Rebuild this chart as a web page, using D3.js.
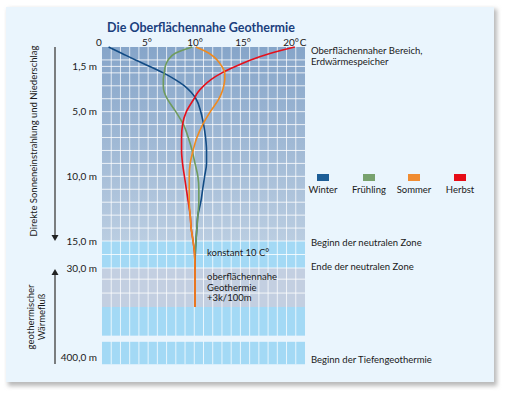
<!DOCTYPE html>
<html>
<head>
<meta charset="utf-8">
<script src="https://cdn.jsdelivr.net/npm/d3@7"></script>
<style>
  body { margin: 0; background: #fff; }
  text { font-family: Lato, "Noto Sans", sans-serif; }
</style>
</head>
<body>
<div id="chart"></div>
<script>
// depth in m, temperatures in °C
var depths = [0, 0.5, 1, 1.5, 2, 2.5, 3, 3.5, 4, 5, 6, 7, 8, 9, 10, 11, 12, 13, 14, 15, 22, 30, 100];
var winter   = [1.0, 2.4, 3.8, 5.3, 6.7, 7.9, 8.9, 9.6, 10.1, 10.6, 10.9, 11.1, 11.2, 11.2, 11.0, 10.8, 10.6, 10.3, 10.2, 10.1, 10.03, 10, 10];
var spring   = [9.7, 7.9, 7.2, 6.9, 6.8, 6.7, 6.7, 6.8, 7.1, 8.0, 8.8, 9.3, 9.7, 10.0, 10.3, 10.4, 10.4, 10.3, 10.2, 10.1, 10.03, 10, 10];
var summer   = [10.1, 11.5, 12.3, 12.8, 13.1, 13.1, 13.0, 12.8, 12.5, 11.6, 10.8, 10.2, 9.8, 9.5, 9.4, 9.4, 9.4, 9.5, 9.6, 9.8, 9.95, 10, 10];
var autumn   = [20.4, 17.8, 15.8, 14.2, 12.8, 11.7, 10.9, 10.3, 9.9, 9.1, 8.7, 8.6, 8.6, 8.7, 8.9, 9.1, 9.3, 9.5, 9.6, 9.8, 9.95, 10, 10];

var seasons = ['Winter', 'Frühling', 'Sommer', 'Herbst'];
var seasonColors = ['#124b84', '#6f9b5e', '#f08a1e', '#e5101b'];
var legendColors = ['#1d5e97', '#78a26e', '#f08c32', '#e60d17'];

var tempTicks = [0, 5, 10, 15, 20];
var tempTickLabels = ['0', '5°', '10°', '15°', '20°'];
var depthTicks = [1.5, 5, 10, 15, 30, 400];
var depthTickLabels = ['1,5 m', '5,0 m', '10,0 m', '15,0 m', '30,0 m', '400,0 m'];
var gridDepths = [1, 1.5, 2, 3, 4, 5, 6, 7, 8, 9, 10, 11, 12, 13, 14, 15, 22.5, 30, 50, 75];

var zones = [
    {from: 15, to: 30, fill: '#a3d9f5'},
    {from: 30, to: 100, fill: '#c3cfe1'},
    {from: 100, to: 260, fill: '#a3d9f5'},
    {from: 292, to: 418, fill: '#a3d9f5'}
];

var W = 506, H = 393;
var plot = {left: 102, right: 305, top: 47};

var x = d3.scaleLinear().domain([0, 20]).range([99, 291]);
var y = d3.scaleLinear().domain([0, 15, 30, 100, 400]).range([47, 241, 268, 307, 361]);

var svg = d3.select('#chart').append('svg')
    .attr('width', W)
    .attr('height', H);

var defs = svg.append('defs');
var grad = defs.append('linearGradient').attr('id', 'topGrad')
    .attr('x1', 0).attr('y1', 0).attr('x2', 0).attr('y2', 1);
grad.append('stop').attr('offset', '0%').attr('stop-color', '#86a5c9');
grad.append('stop').attr('offset', '100%').attr('stop-color', '#bacde1');
var blur = defs.append('filter').attr('id', 'shadow')
    .attr('x', '-5%').attr('y', '-5%').attr('width', '110%').attr('height', '110%');
blur.append('feGaussianBlur').attr('stdDeviation', 2);

// panel
svg.append('rect').attr('x', 8).attr('y', 9).attr('width', 489).attr('height', 377)
    .attr('fill', '#b9b9b9').attr('filter', 'url(#shadow)');
svg.append('rect').attr('x', 6).attr('y', 7).attr('width', 488).attr('height', 375)
    .attr('fill', '#eaf5fd');

svg.append('text')
    .attr('x', 201).attr('y', 31.5)
    .attr('text-anchor', 'middle')
    .style('font-size', '12.5px').style('font-weight', 'bold')
    .attr('fill', '#1b3f7d')
    .text('Die Oberflächennahe Geothermie');

// background bands
var pw = plot.right - plot.left;
svg.append('rect')
    .attr('x', plot.left).attr('y', y(0))
    .attr('width', pw).attr('height', y(15) - y(0))
    .attr('fill', 'url(#topGrad)');
svg.selectAll('rect.zone').data(zones).enter().append('rect')
    .attr('class', 'zone')
    .attr('x', plot.left)
    .attr('y', function(d) { return y(d.from); })
    .attr('width', pw)
    .attr('height', function(d) { return y(d.to) - y(d.from); })
    .attr('fill', function(d) { return d.fill; });

// grid
var nCols = 22;
var colW = pw / nCols;
var grid = svg.append('g').attr('stroke', '#fff');
grid.selectAll('line.v').data(d3.range(1, nCols)).enter().append('line')
    .attr('class', 'v')
    .attr('x1', function(i) { return plot.left + i * colW; })
    .attr('x2', function(i) { return plot.left + i * colW; })
    .attr('y1', y(0)).attr('y2', y(418))
    .attr('stroke-opacity', 0.75);
grid.selectAll('line.h').data(gridDepths).enter().append('line')
    .attr('class', 'h')
    .attr('x1', plot.left).attr('x2', plot.right)
    .attr('y1', function(d) { return y(d); })
    .attr('y2', function(d) { return y(d); })
    .attr('stroke-opacity', 0.8);
// gap in the deep zone
svg.append('rect').attr('x', plot.left).attr('y', y(260))
    .attr('width', pw).attr('height', y(292) - y(260))
    .attr('fill', '#eaf5fd');

// x ticks
svg.selectAll('text.xt').data(tempTicks).enter().append('text')
    .attr('class', 'xt')
    .attr('x', function(d) { return x(d); })
    .attr('y', 45.5)
    .attr('text-anchor', 'middle')
    .style('font-size', '10px')
    .attr('fill', '#1a1a1a')
    .text(function(d, i) { return tempTickLabels[i]; });
svg.append('text').attr('x', 303).attr('y', 45.5).attr('text-anchor', 'middle')
    .style('font-size', '10px').attr('fill', '#1a1a1a').text('C');

// y ticks
svg.selectAll('text.yt').data(depthTicks).enter().append('text')
    .attr('class', 'yt')
    .attr('x', 97)
    .attr('y', function(d) { return d == 400 ? y(d) - 0.5 : y(d) + 3.5; })
    .attr('text-anchor', 'end')
    .style('font-size', '10px')
    .attr('fill', '#1a1a1a')
    .text(function(d, i) { return depthTickLabels[i]; });

// curves
var line = d3.line()
    .x(function(d) { return x(d[1]); })
    .y(function(d) { return y(d[0]); })
    .curve(d3.curveMonotoneY);
var series = [winter, spring, summer, autumn];
var drawOrder = [0, 1, 3, 2];
svg.selectAll('path.season').data(drawOrder).enter().append('path')
    .attr('class', 'season')
    .attr('d', function(i) {
        return line(depths.map(function(d, j) { return [d, series[i][j]]; }));
    })
    .attr('fill', 'none')
    .attr('stroke', function(i) { return seasonColors[i]; })
    .attr('stroke-width', 1.6);

// notes inside the chart
var noteStyle = function(sel) {
    sel.style('font-size', '9.5px').attr('fill', '#1a1a1a');
};
svg.append('text').attr('x', 207).attr('y', 256).call(noteStyle).text('konstant 10 C°');
svg.append('text').attr('x', 207).attr('y', 280).call(noteStyle).text('oberflächennahe');
svg.append('text').attr('x', 207).attr('y', 290.5).call(noteStyle).text('Geothermie');
svg.append('text').attr('x', 207).attr('y', 301).call(noteStyle).text('+3k/100m');

// right side labels
var rightLabels = [
    {t: 'Oberflächennaher Bereich,', y: 54},
    {t: 'Erdwärmespeicher', y: 64.5},
    {t: 'Beginn der neutralen Zone', y: 246},
    {t: 'Ende der neutralen Zone', y: 270},
    {t: 'Beginn der Tiefengeothermie', y: 363}
];
svg.selectAll('text.rl').data(rightLabels).enter().append('text')
    .attr('class', 'rl')
    .attr('x', 311)
    .attr('y', function(d) { return d.y; })
    .call(noteStyle)
    .text(function(d) { return d.t; });

// legend
var legendX = [323, 369, 414, 460];
var legend = svg.selectAll('g.legendItem').data(seasons).enter().append('g')
    .attr('class', 'legendItem')
    .attr('transform', function(d, i) { return 'translate(' + legendX[i] + ',174)'; });
legend.append('rect')
    .attr('x', -6).attr('y', 0)
    .attr('width', 12).attr('height', 7)
    .attr('fill', function(d, i) { return legendColors[i]; });
legend.append('text')
    .attr('x', 0).attr('y', 19)
    .attr('text-anchor', 'middle')
    .call(noteStyle)
    .text(function(d) { return d; });

// left arrows
var arrowColor = '#555';
svg.append('line').attr('x1', 55).attr('x2', 55).attr('y1', 47).attr('y2', 236)
    .attr('stroke', arrowColor).attr('stroke-width', 1.5);
svg.append('path').attr('d', 'M51.5,235 L58.5,235 L55,241 Z').attr('fill', '#222');
svg.append('line').attr('x1', 55).attr('x2', 55).attr('y1', 364).attr('y2', 274)
    .attr('stroke', arrowColor).attr('stroke-width', 1.5);
svg.append('path').attr('d', 'M51.5,275 L58.5,275 L55,269 Z').attr('fill', '#222');

svg.append('text')
    .attr('transform', 'translate(37,141) rotate(-90)')
    .attr('text-anchor', 'middle')
    .call(noteStyle)
    .text('Direkte Sonneneinstrahlung und Niederschlag');
svg.append('text')
    .attr('transform', 'translate(34,317) rotate(-90)')
    .attr('text-anchor', 'middle')
    .call(noteStyle)
    .text('geothermischer');
svg.append('text')
    .attr('transform', 'translate(45,317) rotate(-90)')
    .attr('text-anchor', 'middle')
    .call(noteStyle)
    .text('Wärmefluß');
</script>
</body>
</html>
